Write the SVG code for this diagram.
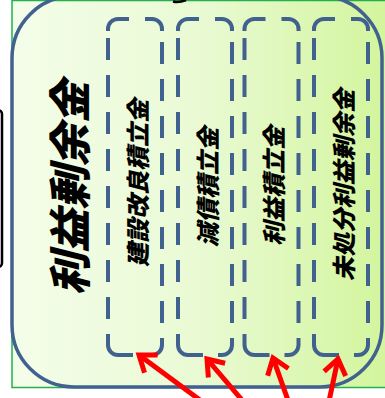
<svg xmlns="http://www.w3.org/2000/svg" width="385" height="398" viewBox="0 0 385 398">
  <defs>
    <linearGradient id="bg" x1="0" y1="0" x2="1" y2="0">
      <stop offset="0" stop-color="#f4fdea"/>
      <stop offset="0.5" stop-color="#e9fad3"/>
      <stop offset="1" stop-color="#d2f59b"/>
    </linearGradient>
    <marker id="ah" markerUnits="userSpaceOnUse" markerWidth="30" markerHeight="30" refX="18" refY="12" orient="auto" viewBox="0 0 30 24">
      <path d="M3,1 L18,12 L3,23" fill="none" stroke="#ff0000" stroke-width="5" stroke-linejoin="miter"/>
    </marker>
    <g id="colshape" class="colline">
      <path d="M0,31 L0,29 A10,10 0 0 1 10,19 L21,19"/>
      <path d="M37,19 L44,19 A10,10 0 0 1 54,29 L54,31"/>
      <line class="side" x1="0" y1="38" x2="0" y2="319"/>
      <line class="side" x1="54" y1="42" x2="54" y2="323"/>
      <path d="M0,334 L0,345 A10,10 0 0 0 10,355 L25,355"/>
      <path d="M40,355 L44,355 A10,10 0 0 0 54,345 L54,338"/>
    </g>
  </defs>
  <style>
    .colline { fill: none; stroke: #41618f; stroke-width: 4; }
    .side { stroke-dasharray: 22 15; }
    .lbl { font-family: "Noto Sans CJK JP", "Noto Sans CJK SC", sans-serif; font-weight: 900; font-style: italic; fill: #000; text-anchor: middle; dominant-baseline: central; }
    .arrow { fill: none; stroke: #ff0000; stroke-width: 5; marker-end: url(#ah); }
  </style>
  <rect x="0" y="0" width="385" height="398" fill="#ffffff"/>
  <g id="background">
    <rect x="12" y="0.5" width="380" height="387" fill="url(#bg)" stroke="#22b14c" stroke-width="1.5"/>
    <rect x="-20" y="110" width="22" height="157" rx="4" fill="none" stroke="#000" stroke-width="2.5"/>
    <path d="M173,1.5 Q179,3 186,0" fill="none" stroke="#000" stroke-width="2.5"/>
  </g>
  <g id="retained-earnings">
    <rect x="12" y="-4" width="370" height="391" rx="62" fill="none" stroke="#41618f" stroke-width="3.5"/>
    <text class="lbl" font-size="43" transform="translate(67,188) rotate(-90)">利益剰余金</text>
  </g>
  <g id="col-kensetsu">
    <use href="#colshape" x="108" y="0"/>
    <text class="lbl" font-size="24" transform="translate(136,183) rotate(-90)">建設改良積立金</text>
  </g>
  <g id="col-gensai">
    <use href="#colshape" x="178" y="0"/>
    <text class="lbl" font-size="24" transform="translate(206,187) rotate(-90)">減債積立金</text>
  </g>
  <g id="col-rieki">
    <use href="#colshape" x="244.5" y="0"/>
    <text class="lbl" font-size="24" transform="translate(272,186) rotate(-90)">利益積立金</text>
  </g>
  <g id="col-mishobun">
    <use href="#colshape" x="314" y="0"/>
    <text class="lbl" font-size="24" transform="translate(342,185) rotate(-90)">未処分利益剰余金</text>
  </g>
  <g id="connectors">
    <path class="arrow" d="M227,420 L139,355"/>
    <path class="arrow" d="M259,420 L207,359"/>
    <path class="arrow" d="M295,420 L273,358"/>
    <path class="arrow" d="M325,420 L338,359"/>
  </g>
</svg>
